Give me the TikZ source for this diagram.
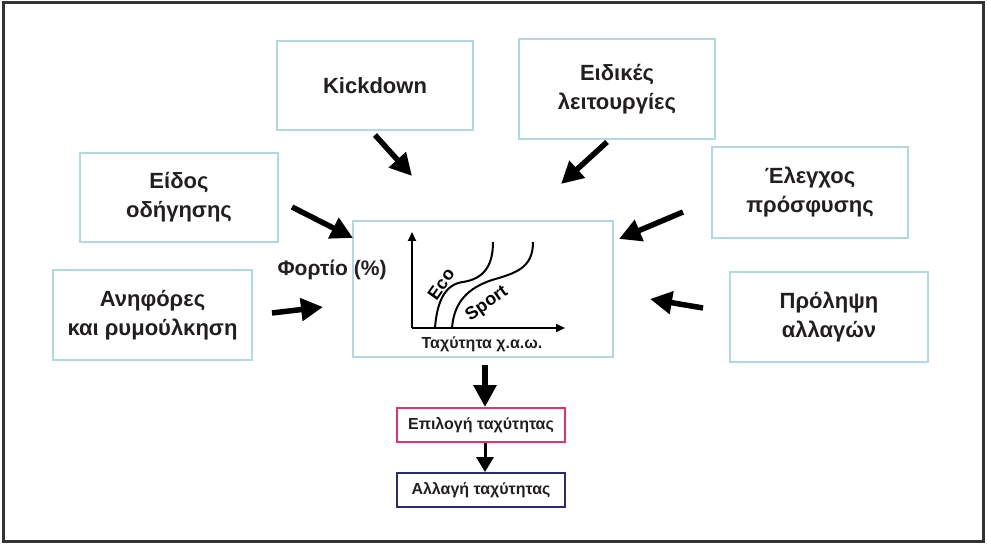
\documentclass[tikz,border=0pt]{standalone}
\usepackage{fontspec}
\setmainfont{Liberation Sans}
\usetikzlibrary{arrows.meta}
\definecolor{boxblue}{HTML}{B2D8E2}
\definecolor{selred}{HTML}{E8306A}
\definecolor{chgnavy}{HTML}{2B2B6E}
\definecolor{framegray}{HTML}{333333}
\definecolor{ink}{HTML}{231F20}
\tikzset{
  inbox/.style={draw=boxblue, line width=1.6pt, fill=white, align=center,
    font=\fontsize{22}{29}\selectfont\bfseries, text=ink, inner sep=0pt},
  smallbox/.style={line width=1.8pt, fill=white, align=center,
    font=\fontsize{16}{19}\selectfont\bfseries, text=ink,
    minimum width=168pt, minimum height=34pt, inner sep=0pt},
  bigarrow/.style={line width=5.5pt, -{Triangle[length=22pt,width=22pt]}},
  thinarrow/.style={line width=3pt, -{Triangle[length=15pt,width=17pt]}},
  axis/.style={line width=2pt, -{Triangle[length=9pt,width=8pt]}},
  curve/.style={line width=2pt},
}
\begin{document}
\begin{tikzpicture}[x=1pt,y=-1pt]
\useasboundingbox (0,0) rectangle (987,545);
\fill[white] (0,0) rectangle (987,545);
\draw[framegray, line width=3pt] (3,3) rectangle (983,541);

% input boxes around the central map
\node[inbox, minimum width=196pt, minimum height=89pt] (kick) at (375,85.5) {Kickdown};
\node[inbox, minimum width=196pt, minimum height=100pt] (spec) at (617,89) {Ειδικές\\λειτουργίες};
\node[inbox, minimum width=198pt, minimum height=89pt] (drive) at (179,197.5) {Είδος\\οδήγησης};
\node[inbox, minimum width=199pt, minimum height=90pt] (hill) at (152.5,315) {Ανηφόρες\\και ρυμούλκηση};
\node[inbox, minimum width=196pt, minimum height=91pt] (slip) at (810,192.5) {Έλεγχος\\πρόσφυσης};
\node[inbox, minimum width=198pt, minimum height=90pt] (pred) at (829,317) {Πρόληψη\\αλλαγών};

% central shift map
\node[draw=boxblue, line width=1.6pt, minimum width=260pt, minimum height=136pt, inner sep=0pt] (map) at (483,289) {};
\node[font=\fontsize{21}{25}\selectfont\bfseries, text=ink] (load) at (332,270) {Φορτίο (\%)};
\coordinate (org) at (412,328);
\coordinate (ytop) at (412,232);
\coordinate (xend) at (565,328);
\draw[axis] (org) -- (ytop);
\draw[axis] (org) -- (xend);
\draw[curve] (435,328) .. controls (437,300) and (446,284) .. (463,282)
  .. controls (482,279) and (493,268) .. (493,242);
\draw[curve] (452,328) .. controls (454,302) and (468,288) .. (492,280)
  .. controls (516,273) and (533,268) .. (533,242);
\node[font=\fontsize{18}{20}\selectfont\bfseries, rotate=55, inner sep=0pt] (eco) at (441,284) {Eco};
\node[font=\fontsize{18}{20}\selectfont\bfseries, rotate=35, inner sep=0pt] (sport) at (487,304) {Sport};
\node[font=\fontsize{16}{19}\selectfont\bfseries, text=ink, inner sep=0pt] (speed) at (482,344) {Ταχύτητα χ.α.ω.};

% gear selection chain
\node[smallbox, draw=selred] (sel) at (481,425) {Επιλογή ταχύτητας};
\node[smallbox, draw=chgnavy] (chg) at (481,490) {Αλλαγή ταχύτητας};

% arrow end points
\coordinate (kA) at (375,135);  \coordinate (kB) at (412,176);
\coordinate (sA) at (607,142);  \coordinate (sB) at (561,184);
\coordinate (dA) at (292,207);  \coordinate (dB) at (353,238);
\coordinate (hA) at (272,313);  \coordinate (hB) at (323,307);
\coordinate (eA) at (683,212);  \coordinate (eB) at (619,239);
\coordinate (pA) at (703,308);  \coordinate (pB) at (650,299);
\coordinate (mA) at (485,365);

\draw[bigarrow] (kA) -- (kB);
\draw[bigarrow] (sA) -- (sB);
\draw[bigarrow] (dA) -- (dB);
\draw[bigarrow] (hA) -- (hB);
\draw[bigarrow] (eA) -- (eB);
\draw[bigarrow] (pA) -- (pB);
\draw[bigarrow] (mA) -- (mA |- sel.north);
\draw[thinarrow] (sel.south -| mA) -- (chg.north -| mA);
\end{tikzpicture}
\end{document}
